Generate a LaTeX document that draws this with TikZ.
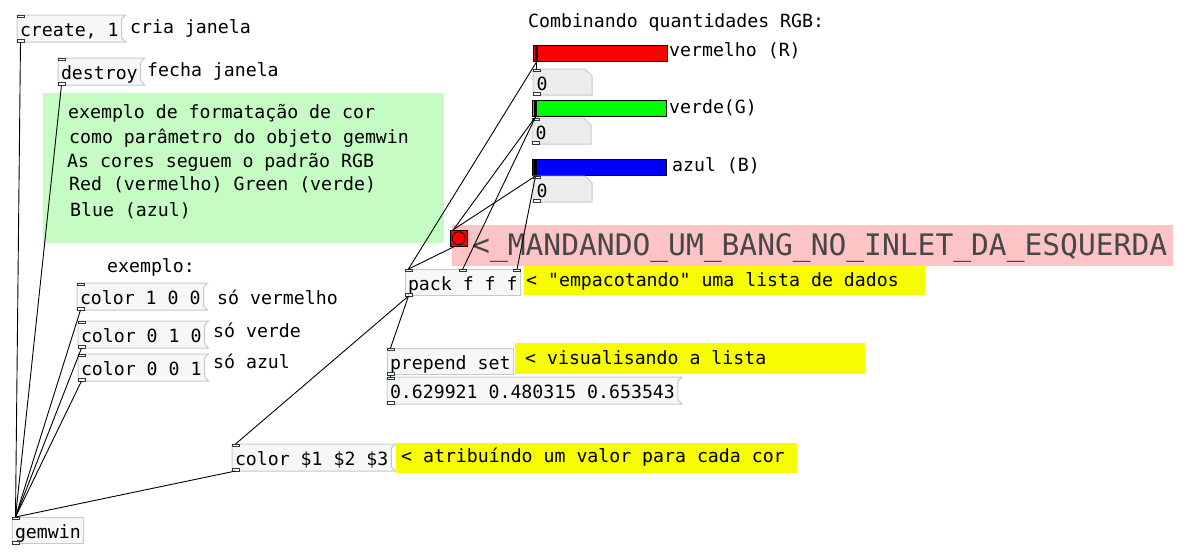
\documentclass[tikz,border=0pt]{standalone}
\usepackage{fontspec}
\setmonofont{DejaVu Sans Mono}
\usepackage{tikz}

\definecolor{boxLine}{HTML}{C8C8C8}
\definecolor{boxFill}{HTML}{F6F8F8}
\definecolor{numFill}{HTML}{ECECEC}
\definecolor{portLine}{HTML}{2E3A2E}
\definecolor{noteGreen}{HTML}{C4FCC4}
\definecolor{notePink}{HTML}{FCC4C4}
\definecolor{noteYellow}{HTML}{F8FC00}
\definecolor{pdRed}{HTML}{FC0000}
\definecolor{pdGreen}{HTML}{00FC00}
\definecolor{pdBlue}{HTML}{0000FC}
\definecolor{bigText}{HTML}{474747}

\begin{document}
\begin{tikzpicture}[x=1pt, y=-1pt]
	\tikzstyle{txt} = [anchor=base west, inner sep=0pt, 
	font=\ttfamily\fontsize{18.2}{20}\selectfont]
	\tikzstyle{obj} = [rectangle, anchor=north west, inner xsep=2.5pt, 
	inner ysep=0pt, text height=20.5pt, text depth=5.5pt, draw=boxLine, 
	fill=boxFill, line width=1pt, font=\ttfamily\fontsize{18.2}{20}\selectfont]
	\tikzstyle{msg} = [obj, draw=none]
	\tikzstyle{numbox} = [obj, draw=none, fill=numFill, inner xsep=3pt, 
	text height=21pt, text depth=4pt, minimum width=58pt, text width=52pt, 
	align=left]
	\tikzstyle{slider} = [rectangle, anchor=north west, inner sep=0pt, 
	minimum width=134pt, minimum height=16pt, draw=black, line width=1pt]
	\tikzstyle{pdcanvas} = [rectangle, anchor=north west, inner sep=0pt]
	\tikzstyle{outline} = [draw=boxLine, line width=1pt]
	\tikzstyle{iolet} = [draw=portLine, fill=boxFill, line width=0.8pt]
	\tikzstyle{wire} = [draw=black, line width=0.9pt]
	\useasboundingbox (0,0) rectangle (1189,558);
	\node (noteBox) [pdcanvas, fill=noteGreen, minimum width=401pt, minimum height=150pt] at (43,93) {};
	\node (bangNote) [pdcanvas, fill=notePink, minimum width=721pt, minimum height=41pt] at (452,225) {};
	\node (packNote) [pdcanvas, fill=noteYellow, minimum width=401pt, minimum height=29pt] at (524,266) {};
	\node (prependNote) [pdcanvas, fill=noteYellow, minimum width=350pt, minimum height=31pt] at (515,343) {};
	\node (colorNote) [pdcanvas, fill=noteYellow, minimum width=401pt, minimum height=30pt] at (396,443) {};
	\node (noteLine1) [txt] at (68,118) {exemplo de formatação de cor};
	\node (noteLine2) [txt] at (69,143) {como parâmetro do objeto gemwin};
	\node (noteLine3) [txt] at (67,167) {As cores seguem o padrão RGB};
	\node (noteLine4) [txt] at (69,190) {Red (vermelho) Green (verde)};
	\node (noteLine5) [txt] at (70,216) {Blue (azul)};
	\node (createMsg) [msg] at (17,15) {create, 1};
	\node (destroyMsg) [msg] at (58,58) {destroy};
	\node (colorRed) [msg] at (77,283) {color 1 0 0};
	\node (colorGreen) [msg] at (78,321) {color 0 1 0};
	\node (colorBlue) [msg] at (78,354) {color 0 0 1};
	\node (colorArgs) [msg] at (232,444) {color \$1 \$2 \$3};
	\node (listBox) [msg] at (387,377) {0.629921 0.480315 0.653543};
	\node (gemwin) [obj] at (12,517) {gemwin};
	\node (pack) [obj] at (405,269) {pack f f f};
	\node (prepend) [obj] at (387,348) {prepend set};
	\node (sliderR) [slider, fill=pdRed] at (533,45) {};
	\node (sliderG) [slider, fill=pdGreen] at (532,100) {};
	\node (sliderB) [slider, fill=pdBlue] at (532,159) {};
	\node (numR) [numbox] at (533,69) {0};
	\node (numG) [numbox] at (532,118) {0};
	\node (numB) [numbox] at (533,176) {0};
	\node (bang) [rectangle, anchor=north west, minimum size=16.5pt, inner sep=0pt, 
	draw=black, fill=pdRed, line width=1pt] at (450,229.5) {};
	\draw [fill=pdRed, line width=0.8pt] (bang.center) circle (6.5pt);
	\foreach \m in {createMsg, destroyMsg, colorRed, colorGreen, colorBlue, colorArgs, listBox} {
		\fill [boxFill] (\m.north east) -- ([xshift=4pt]\m.north east) -- ([yshift=-4pt]\m.north east) -- cycle;
		\fill [boxFill] (\m.south east) -- ([xshift=4pt]\m.south east) -- ([yshift=4pt]\m.south east) -- cycle;
		\draw [outline] (\m.north west) -- ([xshift=4pt]\m.north east) -- ([yshift=-4pt]\m.north east) 
		-- ([yshift=4pt]\m.south east) -- ([xshift=4pt]\m.south east) -- (\m.south west) -- cycle;
	}
	\foreach \n in {numR, numG, numB} {
		\fill [white] ([xshift=-7pt]\n.north east) -- (\n.north east) -- ([yshift=-7pt]\n.north east) -- cycle;
		\draw [outline] (\n.north west) -- ([xshift=-7pt]\n.north east) -- ([yshift=-7pt]\n.north east) 
		-- (\n.south east) -- (\n.south west) -- cycle;
	}
	\foreach \s in {sliderR, sliderG, sliderB}
		\fill ([xshift=1.5pt]\s.north west) rectangle ++(3.5,16);
	\foreach \n in {createMsg, destroyMsg, colorRed, colorGreen, colorBlue, colorArgs, listBox, gemwin, pack, prepend, numR, numG, numB} {
		\draw [iolet] (\n.north west) rectangle ++(7,2.5);
		\draw [iolet] (\n.south west) rectangle ++(7,-2.5);
	}
	\draw [iolet] ([xshift=-3.5pt]pack.north) rectangle ++(7,2.5);
	\draw [iolet] (pack.north east) rectangle ++(-7,2.5);
	\node (createNote) [txt] at (130,33) {cria janela};
	\node (destroyNote) [txt] at (147,76) {fecha janela};
	\node (title) [txt] at (528,27.3) {Combinando quantidades RGB:};
	\node (labelR) [txt] at (669,56.7) {vermelho (R)};
	\node (labelG) [txt] at (669,113.3) {verde(G)};
	\node (labelB) [txt] at (672,171) {azul (B)};
	\node (bangText) [txt, text=bigText, font=\ttfamily\fontsize{29.6}{32}\selectfont] 
	at (472,255) {<\_MANDANDO\_UM\_BANG\_NO\_INLET\_DA\_ESQUERDA};
	\node (packText) [txt] at (526,286.7) {< "empacotando" uma lista de dados};
	\node (prependText) [txt] at (525,364) {< visualisando a lista};
	\node (colorText) [txt] at (401,462.7) {< atribuíndo um valor para cada cor};
	\node (exampleText) [txt] at (107,272.7) {exemplo:};
	\node (onlyRed) [txt] at (217,304.3) {só vermelho};
	\node (onlyGreen) [txt] at (213,337.7) {só verde};
	\node (onlyBlue) [txt] at (213,368.3) {só azul};
	\foreach \a/\b in {createMsg/gemwin, destroyMsg/gemwin, colorRed/gemwin, colorGreen/gemwin, 
		colorBlue/gemwin, colorArgs/gemwin, pack/colorArgs, pack/prepend, prepend/listBox, 
		sliderR/numR, sliderG/numG, sliderB/numB, sliderR/pack, sliderG/bang, sliderB/bang, bang/pack}
		\draw [wire] ([xshift=3.5pt]\a.south west) -- ([xshift=3.5pt]\b.north west);
	\draw [wire] ([xshift=3.5pt]sliderG.south west) -- (pack.north);
	\draw [wire] ([xshift=3.5pt]sliderB.south west) -- ([xshift=-3.5pt]pack.north east);
\end{tikzpicture}
\end{document}
